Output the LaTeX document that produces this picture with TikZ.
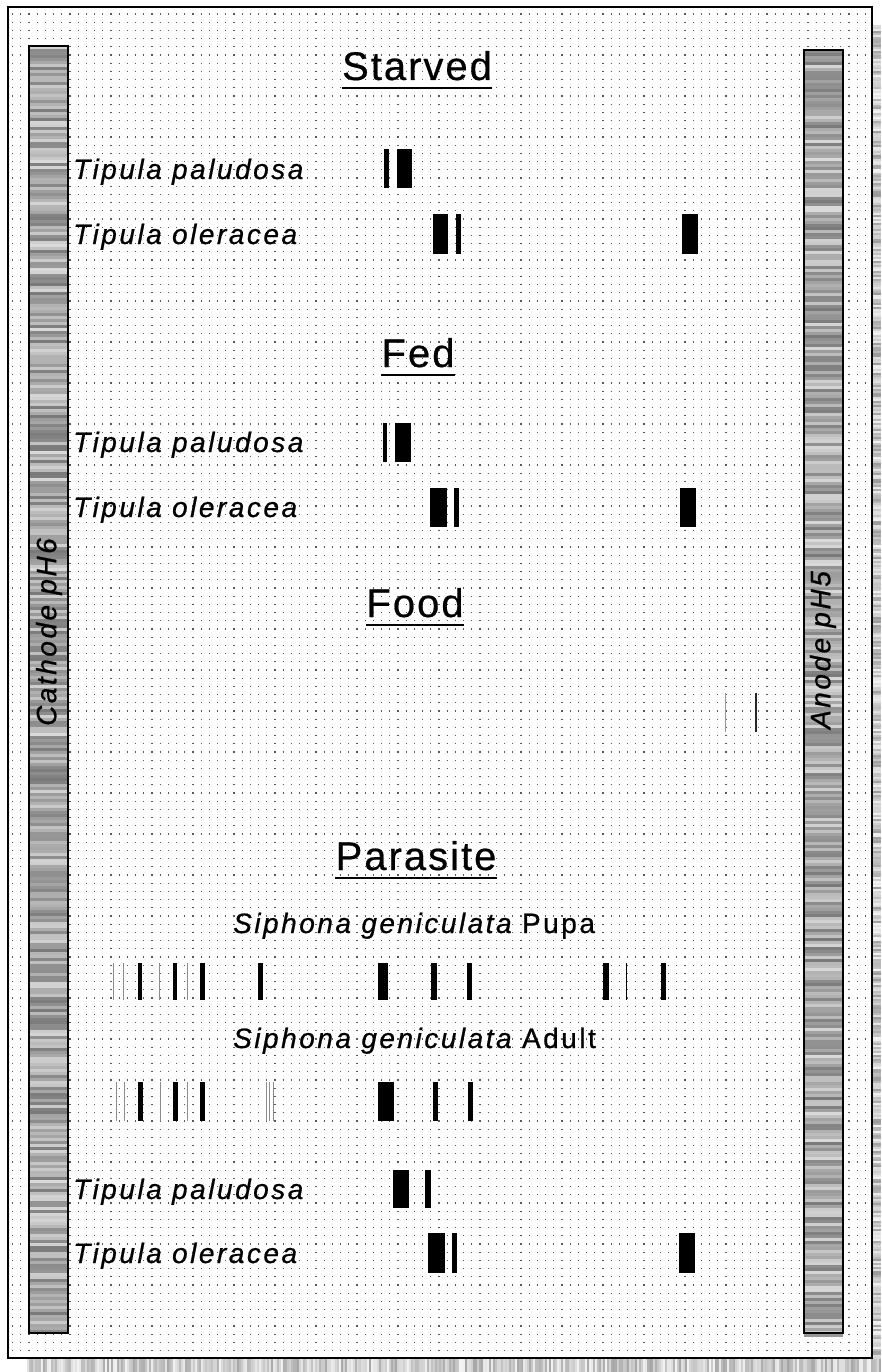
\documentclass[tikz,border=0pt]{standalone}
\usepackage{fontspec}
\setmainfont{Liberation Sans}
\newfontfamily\lblfont[LetterSpace=9,FakeBold=0.7]{Liberation Sans}
\newfontfamily\hdrfont[LetterSpace=5,FakeBold=0.5]{Liberation Sans}
\usetikzlibrary{positioning}

\begin{document}
\begin{tikzpicture}[
  x=1pt, y=-1pt,
  lbl/.style={font=\lblfont\fontsize{28}{33}\selectfont\itshape,
              inner sep=0pt, anchor=base west},
  hdr/.style={font=\hdrfont\fontsize{40}{48}\selectfont,
              inner sep=0pt, anchor=base},
  ul/.style={line width=2.8pt},
  band/.style={fill=black},
  faint/.style={draw=black!45, line width=0.9pt},
  dotrow/.style={draw=black!65, line width=1.2pt,
                 dash pattern=on 1.2pt off 7pt},
  strip/.style={draw=black, line width=1.5pt},
]
\useasboundingbox (0,0) rectangle (881,1372);
\pgfmathsetseed{42}

% ===== shadow =====
\fill[black!20] (872,25) rectangle (881,1372);
\fill[black!15] (27,1358) rectangle (881,1372);
\foreach \k in {0,...,673}{
  \pgfmathsetmacro{\g}{int(5+35*rnd)}
  \draw[black!\g, line width=2pt] (873,26+2*\k) -- (881,26+2*\k);
}
\foreach \k in {0,...,426}{
  \pgfmathsetmacro{\g}{int(5+30*rnd)}
  \draw[black!\g, line width=2pt] (28+2*\k,1359) -- (28+2*\k,1372);
}

% ===== frame and dot grid =====
\draw[line width=1.5pt, fill=white] (8,7) rectangle (872,1358);
\foreach \yy in {14,22.2,...,1354}
  \draw[dotrow] (12,\yy) -- (868,\yy);

% ===== electrode strips =====
\foreach \k in {0,...,428}{
  \pgfmathsetmacro{\g}{int(15+38*rnd)}
  \pgfmathsetmacro{\h}{int(15+38*rnd)}
  \draw[black!\g, line width=3.1pt] (29,47.5+3*\k) -- (68,47.5+3*\k);
  \draw[black!\h, line width=3.1pt] (804,51.5+3*\k) -- (843,51.5+3*\k);
}
\draw[strip] (29,46) rectangle (68,1333);
\draw[strip] (804,50) rectangle (843,1333);
\node[lbl, rotate=90, anchor=center] (cath) at (49,632) {Cathode pH6};
\node[lbl, rotate=90, anchor=center] (anod) at (823,650) {Anode pH5};

% ===== starved =====
\node[hdr] (hStarved) at (417,80) {Starved};
\draw[ul] ([yshift=-8pt]hStarved.base west) -- ([yshift=-8pt]hStarved.base east);
\node[lbl] (sPal) at (73,179) {Tipula paludosa};
\node[lbl] (sOle) at (73,244) {Tipula oleracea};
\foreach \a/\b in {384/389.3,396.7/412.3}
  \fill[band] (\a,149) rectangle (\b,188);
\foreach \a/\b in {432.7/448.3,456/460.7,682.3/698.3}
  \fill[band] (\a,214) rectangle (\b,254);

% ===== fed =====
\node[hdr] (hFed) at (418,367) {Fed};
\draw[ul] ([yshift=-8pt]hFed.base west) -- ([yshift=-8pt]hFed.base east);
\node[lbl] (fPal) at (73,452) {Tipula paludosa};
\node[lbl] (fOle) at (73,517) {Tipula oleracea};
\foreach \a/\b in {382.7/387.3,394.7/410.7}
  \fill[band] (\a,423) rectangle (\b,462);
\foreach \a/\b in {430/446.7,454.3/459,680/696}
  \fill[band] (\a,488) rectangle (\b,527);

% ===== food =====
\node[hdr] (hFood) at (415,617) {Food};
\draw[ul] ([yshift=-8pt]hFood.base west) -- ([yshift=-8pt]hFood.base east);
\draw[black!40, line width=1.4pt] (725.7,693) -- (725.7,732);
\draw[black!85, line width=1.6pt] (756,693) -- (756,732);

% ===== parasite =====
\node[hdr] (hParasite) at (416,870) {Parasite};
\draw[ul] ([yshift=-8pt]hParasite.base west) -- ([yshift=-8pt]hParasite.base east);
\node[lbl] (sgPupa) at (233,933) {Siphona geniculata \upshape Pupa};
\foreach \x in {113.3,123.3,159,187.7}
  \draw[faint] (\x,963) -- (\x,1000);
\draw[black, line width=1pt] (626.7,963) -- (626.7,1000);
\foreach \a/\b in {137.7/142.3,172.7/177.3,200/205,258.3/263.3,377.5/387.5,
                   430.7/436.7,466.7/471.7,603.3/608.7,660.7/666}
  \fill[band] (\a,963) rectangle (\b,1000);

\node[lbl] (sgAdult) at (233,1048) {Siphona geniculata \upshape Adult};
\foreach \x in {116,124,160,187,266,269.5,273}
  \draw[faint] (\x,1082) -- (\x,1121);
\foreach \a/\b in {138/142.5,173/178,200/205,377.7/394,432.7/438,468.3/473.3}
  \fill[band] (\a,1082) rectangle (\b,1121);

\node[lbl] (pPal) at (73,1199) {Tipula paludosa};
\node[lbl] (pOle) at (73,1263) {Tipula oleracea};
\foreach \a/\b in {392.7/409,425.3/430.7}
  \fill[band] (\a,1170) rectangle (\b,1208);
\foreach \a/\b in {428.3/445,452.3/457,679.3/695.3}
  \fill[band] (\a,1233) rectangle (\b,1273);

\end{tikzpicture}
\end{document}
